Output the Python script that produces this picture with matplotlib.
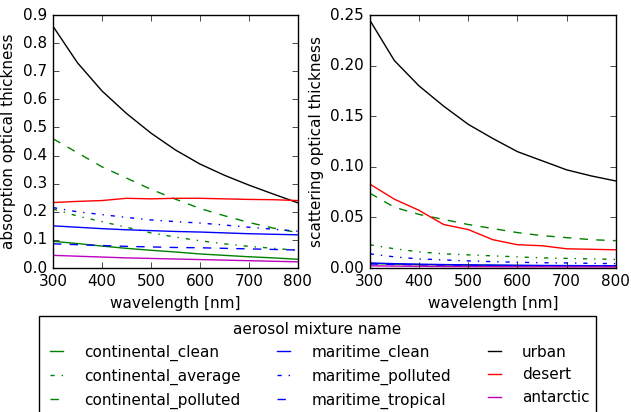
import numpy as np
import matplotlib
matplotlib.use("Agg")
import matplotlib.pyplot as plt

plt.style.use("classic")

wavelength = [300, 350, 400, 450, 500, 550, 600, 650, 700, 750, 800]

names = ["continental_clean", "continental_average", "continental_polluted",
         "maritime_clean", "maritime_polluted", "maritime_tropical",
         "urban", "desert", "antarctic"]

# absorption optical thickness
abs_cc = [0.095, 0.087, 0.078, 0.070, 0.063, 0.057, 0.050, 0.045, 0.040, 0.036, 0.031]
abs_ca = [0.210, 0.185, 0.165, 0.145, 0.125, 0.110, 0.097, 0.086, 0.077, 0.070, 0.063]
abs_cp = [0.460, 0.410, 0.360, 0.320, 0.280, 0.245, 0.212, 0.186, 0.162, 0.142, 0.126]
abs_mc = [0.150, 0.145, 0.140, 0.136, 0.133, 0.130, 0.128, 0.125, 0.122, 0.120, 0.118]
abs_mp = [0.215, 0.200, 0.190, 0.180, 0.171, 0.165, 0.160, 0.153, 0.145, 0.138, 0.131]
abs_mt = [0.086, 0.083, 0.080, 0.077, 0.075, 0.073, 0.072, 0.070, 0.068, 0.066, 0.064]
abs_urban = [0.860, 0.730, 0.630, 0.550, 0.480, 0.420, 0.370, 0.330, 0.295, 0.263, 0.232]
abs_desert = [0.233, 0.237, 0.240, 0.248, 0.246, 0.248, 0.248, 0.246, 0.244, 0.243, 0.240]
abs_ant = [0.045, 0.042, 0.039, 0.036, 0.034, 0.032, 0.030, 0.028, 0.026, 0.024, 0.022]

# scattering optical thickness
sca_cc = [0.0045, 0.0038, 0.0033, 0.0030, 0.0028, 0.0026, 0.0024, 0.0023, 0.0022, 0.0021, 0.0020]
sca_ca = [0.023, 0.019, 0.016, 0.014, 0.013, 0.012, 0.011, 0.010, 0.0095, 0.009, 0.0085]
sca_cp = [0.074, 0.060, 0.053, 0.048, 0.043, 0.039, 0.035, 0.032, 0.030, 0.028, 0.027]
sca_mc = [0.005, 0.0043, 0.0038, 0.0034, 0.0031, 0.0029, 0.0027, 0.0025, 0.0024, 0.0023, 0.0022]
sca_mp = [0.014, 0.011, 0.009, 0.008, 0.007, 0.0063, 0.0057, 0.0052, 0.005, 0.0046, 0.0043]
sca_mt = [0.004, 0.0035, 0.0031, 0.0028, 0.0026, 0.0024, 0.0023, 0.0022, 0.0021, 0.002, 0.0019]
sca_urban = [0.245, 0.205, 0.180, 0.160, 0.142, 0.128, 0.115, 0.106, 0.097, 0.091, 0.086]
sca_desert = [0.083, 0.068, 0.057, 0.043, 0.038, 0.028, 0.023, 0.022, 0.019, 0.0185, 0.018]
sca_ant = [0.0022, 0.0019, 0.0017, 0.0015, 0.0014, 0.0013, 0.0012, 0.0012, 0.0011, 0.0011, 0.0010]

absorption = [abs_cc, abs_ca, abs_cp, abs_mc, abs_mp, abs_mt, abs_urban, abs_desert, abs_ant]
scattering = [sca_cc, sca_ca, sca_cp, sca_mc, sca_mp, sca_mt, sca_urban, sca_desert, sca_ant]

styles = ["g-", "g-.", "g--", "b-", "b-.", "b--", "k-", "r-", "m-"]

fig = plt.figure(figsize=(6.31, 4.12), dpi=100)
ax1 = fig.add_axes([0.084, 0.3495, 0.388, 0.614])
ax2 = fig.add_axes([0.586, 0.3495, 0.390, 0.614])

for name, a, s, st in zip(names, absorption, scattering, styles):
    ax1.plot(wavelength, a, st, label=name)
    ax2.plot(wavelength, s, st, label=name)

ax1.set_xlim(300, 800)
ax1.set_ylim(0, 0.9)
ax1.set_xlabel("wavelength [nm]")
ax1.set_ylabel("absorption optical thickness")

ax2.set_xlim(300, 800)
ax2.set_ylim(0, 0.25)
ax2.set_xlabel("wavelength [nm]")
ax2.set_ylabel("scattering optical thickness")

for ax in (ax1, ax2):
    ax.tick_params(labelsize=11)
    ax.xaxis.label.set_size(11)
    ax.yaxis.label.set_size(11)

handles, labels = ax1.get_legend_handles_labels()
leg = fig.legend(handles, labels, loc="upper center", bbox_to_anchor=(0.503, 0.233),
                 ncol=3, title="aerosol mixture name", fontsize=11,
                 handlelength=1.44, handletextpad=1.09, columnspacing=2.1,
                 labelspacing=0.5, borderaxespad=0)
leg.get_title().set_fontsize(11)

fig.savefig("out.png", dpi=100)
